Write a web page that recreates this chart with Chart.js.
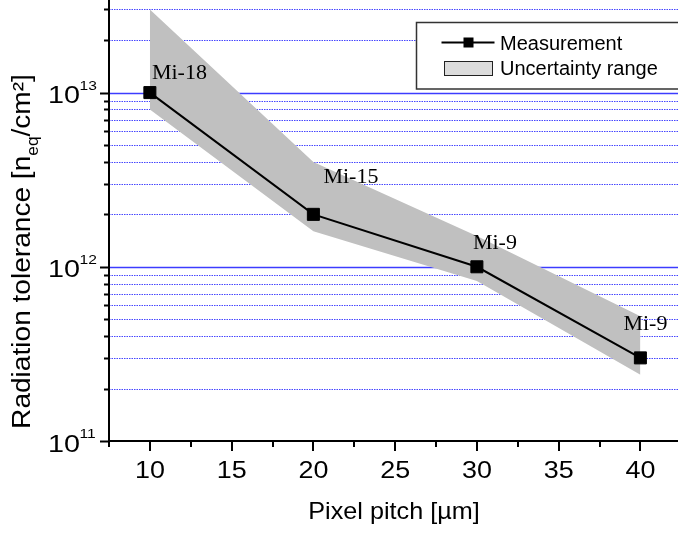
<!DOCTYPE html>
<html>
<head>
<meta charset="utf-8">
<script src="https://cdn.jsdelivr.net/npm/chart.js@4.4.1/dist/chart.umd.min.js"></script>
<style>
html, body { margin: 0; padding: 0; background: #fff; overflow: hidden; }
#wrap { width: 678px; height: 534px; }
</style>
</head>
<body>
<div id="wrap"><canvas id="chart" width="678" height="534"></canvas></div>
<script>
// Radiation tolerance vs. pixel pitch
const pitch = [10, 20, 30, 40];
const tolerance = [1e13, 2e12, 1e12, 3e11];
const upperBound = [3e13, 4e12, 1.5e12, 5.2e11];
const lowerBound = [8e12, 1.6e12, 8.3e11, 2.4e11];
const sensorNames = ['Mi-18', 'Mi-15', 'Mi-9', 'Mi-9'];
const xTicks = [10, 15, 20, 25, 30, 35, 40];
const xMinorTicks = [7.5, 12.5, 17.5, 22.5, 27.5, 32.5, 37.5];
const yDecades = [1e11, 1e12, 1e13];
const yExponents = ['11', '12', '13'];

const sans = '"Liberation Sans", Arial, sans-serif';
const serif = '"Liberation Serif", "Times New Roman", serif';

// name label position relative to its marker (left edge, baseline)
const nameOffsets = [[2, -14], [10, -31], [-4, -18], [-17, -28]];

function toPoints(ys) {
    return pitch.map((x, i) => ({ x: x, y: ys[i] }));
}

// 2..9 in each decade, as long as it fits in the axis
function minorValues(yScale) {
    const out = [];
    yDecades.forEach(d => {
        for (let k = 2; k <= 9; k++) {
            if (k * d <= yScale.max) out.push(k * d);
        }
    });
    return out;
}

function stretchText(ctx, text, x, y, font, sx, align) {
    ctx.save();
    ctx.font = font;
    ctx.translate(x, y);
    ctx.scale(sx, 1);
    ctx.textAlign = align || 'left';
    ctx.textBaseline = 'alphabetic';
    ctx.fillText(text, 0, 0);
    ctx.restore();
}

function hline(ctx, x1, x2, y) {
    ctx.beginPath();
    ctx.moveTo(x1, y);
    ctx.lineTo(x2, y);
    ctx.stroke();
}

function vline(ctx, x, y1, y2) {
    ctx.beginPath();
    ctx.moveTo(x, y1);
    ctx.lineTo(x, y2);
    ctx.stroke();
}

const gridPlugin = {
    id: 'grid',
    beforeDatasetsDraw(chart) {
        const { ctx, chartArea: a } = chart;
        const y = chart.scales.y;
        ctx.save();
        ctx.lineWidth = 1;
        ctx.strokeStyle = 'rgb(70, 70, 255)';
        ctx.setLineDash([1.5, 1]);
        minorValues(y).forEach(v => {
            const py = Math.round(y.getPixelForValue(v)) + 0.5;
            hline(ctx, a.left, a.right, py);
        });
        ctx.setLineDash([]);
        ctx.strokeStyle = 'rgb(60, 60, 255)';
        ctx.lineWidth = 1.5;
        yDecades.slice(1).forEach(v => {
            const py = Math.round(y.getPixelForValue(v)) + 0.5;
            hline(ctx, a.left, a.right, py);
        });
        ctx.restore();
    }
};

const axesPlugin = {
    id: 'axes',
    afterDraw(chart) {
        const { ctx, chartArea: a } = chart;
        const x = chart.scales.x;
        const y = chart.scales.y;
        ctx.save();
        ctx.strokeStyle = '#000';
        ctx.fillStyle = '#000';
        ctx.lineWidth = 2;

        // axis lines
        vline(ctx, a.left, a.top, a.bottom + 1);
        hline(ctx, a.left - 1, a.right, a.bottom);

        // y ticks
        minorValues(y).forEach(v => {
            const py = Math.round(y.getPixelForValue(v)) + 0.5;
            hline(ctx, a.left - 5, a.left, py);
        });
        yDecades.forEach((v, i) => {
            const py = y.getPixelForValue(v);
            hline(ctx, a.left - 9, a.left, Math.round(py) + 0.5);
            stretchText(ctx, '10', 80, py + 10.5, '23px ' + sans, 1.25, 'right');
            stretchText(ctx, yExponents[i], 79.5, py - 3, '13px ' + sans, 1.2, 'left');
        });

        // x ticks
        xMinorTicks.forEach(v => {
            const px = Math.round(x.getPixelForValue(v));
            vline(ctx, px, a.bottom, a.bottom + 6);
        });
        xTicks.forEach(v => {
            const px = x.getPixelForValue(v);
            vline(ctx, Math.round(px), a.bottom, a.bottom + 10);
            stretchText(ctx, String(v), px, 477.5, '23px ' + sans, 1.17, 'center');
        });

        // axis titles
        stretchText(ctx, 'Pixel pitch [\u00b5m]', 394, 519, '24px ' + sans, 1.05, 'center');

        const main = '26px ' + sans;
        const sub = '16px ' + sans;
        const parts = [['Radiation tolerance [n', main, 0], ['eq', sub, 8], ['/cm\u00b2]', main, 0]];
        ctx.save();
        ctx.translate(30, 251.5);
        ctx.rotate(-Math.PI / 2);
        ctx.scale(1.08, 1);
        ctx.textBaseline = 'alphabetic';
        let total = 0;
        parts.forEach(p => { ctx.font = p[1]; total += ctx.measureText(p[0]).width; });
        let tx = -total / 2;
        parts.forEach(p => {
            ctx.font = p[1];
            ctx.fillText(p[0], tx, p[2]);
            tx += ctx.measureText(p[0]).width;
        });
        ctx.restore();

        // sensor names
        const meta = chart.getDatasetMeta(0);
        sensorNames.forEach((name, i) => {
            const pt = meta.data[i];
            stretchText(ctx, name, pt.x + nameOffsets[i][0], pt.y + nameOffsets[i][1], '20px ' + serif, 1.1, 'left');
        });

        // legend
        ctx.fillStyle = '#fff';
        ctx.fillRect(416.5, 22.5, 300, 66.5);
        ctx.strokeStyle = '#333';
        ctx.lineWidth = 1.5;
        ctx.strokeRect(416.5, 22.5, 300, 66.5);
        ctx.strokeStyle = '#000';
        ctx.lineWidth = 2;
        hline(ctx, 441.5, 494.5, 42.5);
        ctx.fillStyle = '#000';
        ctx.fillRect(463.5, 37.5, 10, 10);
        ctx.fillStyle = '#dcdcdc';
        ctx.fillRect(444.5, 61.5, 48, 14);
        ctx.lineWidth = 1;
        ctx.strokeStyle = '#222';
        ctx.strokeRect(444.5, 61.5, 48, 14);
        ctx.fillStyle = '#000';
        stretchText(ctx, 'Measurement', 500, 50, '20px ' + sans, 1, 'left');
        stretchText(ctx, 'Uncertainty range', 500, 75, '20px ' + sans, 1, 'left');

        ctx.restore();
    }
};

new Chart(document.getElementById('chart'), {
    type: 'line',
    data: {
        datasets: [{
            label: 'Measurement',
            data: toPoints(tolerance),
            borderColor: '#000',
            borderWidth: 2,
            pointStyle: 'rect',
            pointRadius: 8.5,
            pointBackgroundColor: '#000',
            pointBorderColor: '#000',
            pointBorderWidth: 1,
            fill: false
        }, {
            label: 'Uncertainty range',
            data: toPoints(upperBound),
            borderWidth: 0,
            borderColor: 'rgba(0,0,0,0)',
            backgroundColor: '#c0c0c0',
            pointRadius: 0,
            fill: '+1'
        }, {
            label: 'lower',
            data: toPoints(lowerBound),
            borderWidth: 0,
            borderColor: 'rgba(0,0,0,0)',
            pointRadius: 0,
            fill: false
        }]
    },
    options: {
        responsive: false,
        animation: false,
        layout: { autoPadding: false, padding: { left: 109, top: 0, right: 0, bottom: 93 } },
        plugins: {
            legend: { display: false },
            tooltip: { enabled: false }
        },
        scales: {
            x: { type: 'linear', min: 7.5, max: 42.3, display: false },
            y: { type: 'logarithmic', min: 1e11, max: 3.4e13, display: false }
        }
    },
    plugins: [gridPlugin, axesPlugin]
});
</script>
</body>
</html>
